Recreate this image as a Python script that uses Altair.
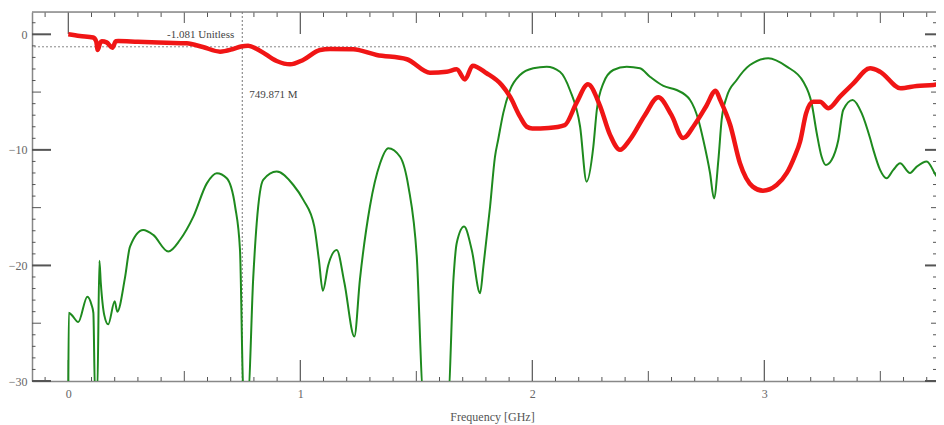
import altair as alt
import pandas as pd

# ---------------- data ----------------
red_f = [0.0, 0.05, 0.107, 0.12, 0.127, 0.137, 0.144, 0.165, 0.19, 0.205, 0.215, 0.3, 0.424, 0.51,
         0.58, 0.654, 0.71, 0.745, 0.775, 0.826, 0.898, 0.956, 1.012, 1.085, 1.128, 1.228, 1.329,
         1.459, 1.559, 1.631, 1.674, 1.71, 1.743, 1.803, 1.868, 1.904, 1.947, 1.976, 2.0, 2.07,
         2.14, 2.19, 2.24, 2.29, 2.335, 2.378, 2.42, 2.485, 2.543, 2.6, 2.65, 2.7, 2.75, 2.79, 2.81,
         2.853, 2.895, 2.95, 2.994, 3.053, 3.097, 3.13, 3.154, 3.18, 3.21, 3.24, 3.276, 3.326,
         3.384, 3.456, 3.499, 3.587, 3.657, 3.729, 3.775]
red_v = [0.0, -0.15, -0.28, -0.6, -1.36, -0.75, -0.6, -0.7, -1.16, -0.6, -0.58, -0.65, -0.73, -0.78,
         -1.1, -1.5, -1.27, -1.05, -0.98, -1.42, -2.31, -2.6, -2.22, -1.36, -1.27, -1.3, -1.79,
         -2.16, -3.32, -3.24, -3.03, -3.9, -2.72, -3.37, -4.39, -5.4, -7.13, -8.0, -8.15, -8.1,
         -7.85, -5.95, -4.33, -6.1, -8.7, -10.0, -9.14, -7.0, -5.45, -7.0, -8.98, -7.8, -6.2, -4.88,
         -5.7, -7.85, -11.16, -13.18, -13.53, -13.04, -12.0, -10.6, -9.3, -6.84, -5.83, -5.83,
         -6.4, -5.4, -4.24, -2.94, -3.24, -4.67, -4.47, -4.39, -4.1]

green_f = [0.0, 0.002, 0.015, 0.043, 0.082, 0.1, 0.108, 0.115, 0.125, 0.134, 0.14, 0.155, 0.172,
           0.2, 0.211, 0.244, 0.266, 0.323, 0.366, 0.431, 0.481, 0.539, 0.597, 0.64, 0.683, 0.719,
           0.74, 0.755, 0.775, 0.797, 0.812, 0.84, 0.898, 0.97, 1.013, 1.06, 1.08, 1.097, 1.12,
           1.157, 1.19, 1.233, 1.257, 1.3, 1.344, 1.379, 1.43, 1.466, 1.502, 1.53, 1.638, 1.66,
           1.674, 1.706, 1.739, 1.775, 1.789, 1.818, 1.839, 1.853, 1.875, 1.904, 1.947, 2.004,
           2.062, 2.119, 2.162, 2.206, 2.234, 2.263, 2.278, 2.306, 2.349, 2.407, 2.464, 2.507,
           2.565, 2.622, 2.68, 2.716, 2.737, 2.766, 2.783, 2.802, 2.816, 2.838, 2.881, 2.938,
           3.017, 3.097, 3.168, 3.204, 3.226, 3.247, 3.265, 3.29, 3.319, 3.34, 3.381, 3.42, 3.456,
           3.47, 3.499, 3.527, 3.556, 3.585, 3.628, 3.657, 3.7, 3.743, 3.775]
green_v = [-31, -24.1, -24.3, -24.9, -22.7, -23.4, -24.1, -31, -31, -19.6, -21.5, -24.3, -25.1,
           -23.1, -24.0, -21.1, -18.37, -16.93, -17.36, -18.8, -17.8, -15.78, -12.9, -12.02,
           -12.46, -14.9, -18.66, -31, -31, -21.1, -16.35, -12.6, -11.88, -13.04, -14.33, -16.6,
           -19.5, -22.2, -20.0, -18.66, -21.5, -26.15, -21.2, -14.9, -11.16, -9.86, -10.6, -13.18,
           -19.24, -31, -31, -21.2, -18.08, -16.64, -18.66, -22.4, -20.1, -14.9, -10.6, -9.1,
           -6.8, -4.82, -3.52, -2.94, -2.8, -3.24, -4.82, -8.0, -12.75, -9.72, -6.55, -4.24,
           -3.09, -2.8, -2.94, -3.67, -4.47, -4.82, -5.68, -7.41, -9.14, -12.0, -14.2, -10.87,
           -7.41, -5.4, -3.95, -2.66, -2.08, -2.8, -4.1, -5.97, -8.56, -10.6, -11.3, -10.87,
           -9.14, -6.55, -5.68, -6.84, -9.0, -10.0, -11.73, -12.46, -11.73, -11.16, -12.0,
           -11.45, -11.0, -12.3, -12.9]

marker_f = 0.749871
marker_v = -1.081
marker_texts = ["-1.081 Unitless", "749.871 M"]

x_label_values = [0, 1, 2, 3]
y_label_values = [0, -10, -20, -30]
x_tick_values = [round(k / 10, 1) for k in range(-1, 38)]
y_tick_values = list(range(-30, 2))

# ---------------- layout ----------------
W, H = 904, 369
SERIF = "Liberation Serif"
xscale = alt.Scale(domain=[-0.1565, 3.740], nice=False, zero=False)
yscale = alt.Scale(domain=[-30, 1.93], nice=False, zero=False)
xaxis = alt.Axis(values=x_label_values, ticks=False, grid=False, domainColor="#888",
                 domainWidth=1.5, labelFont=SERIF, labelFontSize=12, labelColor="#666",
                 labelPadding=7, titleFont=SERIF, titleFontSize=12, titleFontWeight="normal",
                 titleColor="#555", titlePadding=12, titleX=460, titleAlign="center")
yaxis = alt.Axis(values=y_label_values, ticks=False, grid=False, domainColor="#888",
                 domainWidth=1.5, labelFont=SERIF, labelFontSize=12, labelColor="#666",
                 labelPadding=5)


def X():
    return alt.X("f:Q", scale=xscale, axis=xaxis, title="Frequency [GHz]")


def Y():
    return alt.Y("v:Q", scale=yscale, axis=yaxis, title="")


def cls(vals, period_major, period_mid):
    major, mid, minor = [], [], []
    for v in vals:
        if abs(v / period_major - round(v / period_major)) < 1e-6:
            major.append(v)
        elif abs(v / period_mid - round(v / period_mid)) < 1e-6:
            mid.append(v)
        else:
            minor.append(v)
    return major, mid, minor


xmaj, xmid, xmin_ = cls(x_tick_values, 1.0, 0.5)
ymaj, ymid, ymin_ = cls(y_tick_values, 10, 5)

layers = []
TICK = "#555"


def xtick_layer(vals, a, b, sw):
    return alt.Chart(pd.DataFrame({"f": vals})).mark_rule(color=TICK, strokeWidth=sw).encode(
        x=X(), y=alt.value(a), y2=alt.value(b))


def ytick_layer(vals, a, b, sw):
    return alt.Chart(pd.DataFrame({"v": vals})).mark_rule(color=TICK, strokeWidth=sw).encode(
        y=Y(), x=alt.value(a), x2=alt.value(b))


# bottom ticks (inward)
layers += [xtick_layer(xmaj, H, H - 21, 1.2), xtick_layer(xmid, H, H - 10, 1),
           xtick_layer(xmin_, H, H - 4, 1)]
# top ticks (inward)
layers += [xtick_layer(xmaj, 0, 22, 1.2), xtick_layer(xmid, 0, 11, 1),
           xtick_layer(xmin_, 0, 5, 1)]
# left ticks
layers += [ytick_layer(ymaj, 0, 19, 2), ytick_layer(ymid, 0, 9, 1),
           ytick_layer(ymin_, 0, 3.5, 1)]
# right ticks
layers += [ytick_layer(ymaj, W, W - 11, 2), ytick_layer(ymid, W, W - 5, 1),
           ytick_layer(ymin_, W, W - 3, 1)]

# top frame line
top_frame = alt.Chart(pd.DataFrame({"a": [0]})).mark_rule(color="#888", strokeWidth=1.5).encode(
    y=alt.value(0), x=alt.value(0), x2=alt.value(W))
layers.append(top_frame)

# marker lines
hline = alt.Chart(pd.DataFrame({"v": [marker_v]})).mark_rule(
    color="#888", strokeDash=[2, 2], strokeWidth=1).encode(y=Y())
vline = alt.Chart(pd.DataFrame({"f": [marker_f]})).mark_rule(
    color="#777", strokeDash=[2, 2], strokeWidth=1).encode(x=X())
layers += [hline, vline]

green_df = pd.DataFrame({"f": green_f, "v": green_v, "i": range(len(green_f))})
red_df = pd.DataFrame({"f": red_f, "v": red_v, "i": range(len(red_f))})

green = alt.Chart(green_df).mark_line(color="#1e8a1e", strokeWidth=2, interpolate="monotone",
                                      clip=True).encode(x=X(), y=Y(), order="i:Q")
red = alt.Chart(red_df).mark_line(color="#f01515", strokeWidth=4.5, interpolate="monotone",
                                  clip=True).encode(x=X(), y=Y(), order="i:Q")
layers += [green, red]

txt_df = pd.DataFrame({"f": [marker_f], "v": [marker_v], "t1": [marker_texts[0]],
                       "t2": [marker_texts[1]]})
t1 = alt.Chart(txt_df).mark_text(align="right", baseline="middle", dx=-8, dy=-12, font=SERIF,
                                 fontSize=11, color="#444").encode(x=X(), y=Y(), text="t1:N")
t2 = alt.Chart(txt_df).mark_text(align="left", baseline="middle", dx=7, dy=48, font=SERIF,
                                 fontSize=11, color="#444").encode(x=X(), y=Y(), text="t2:N")
layers += [t1, t2]

chart = alt.layer(*layers).properties(
    width=W, height=H,
    padding={"left": 24, "top": 4, "right": 0, "bottom": 44},
    autosize=alt.AutoSizeParams(type="none"),
).configure_view(stroke=None).configure(background="white")

chart.save("out.html", embed_options={"renderer": "svg", "actions": False})
